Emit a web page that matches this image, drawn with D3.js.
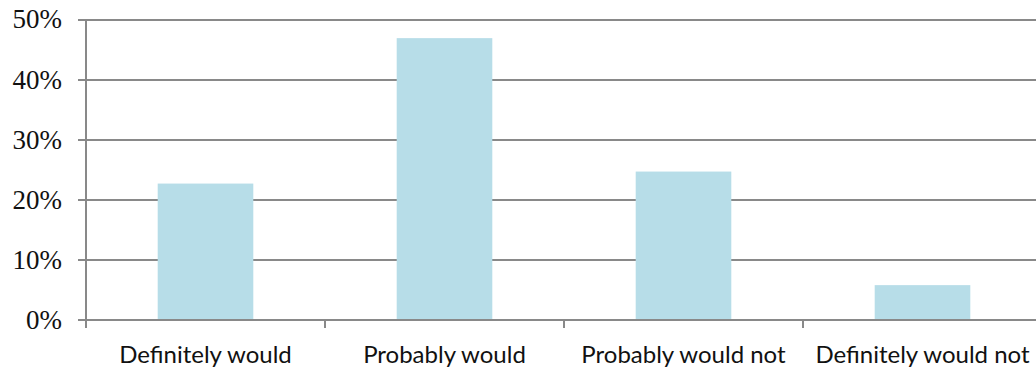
<!DOCTYPE html>
<html>
<head>
<meta charset="utf-8">
<script src="https://cdn.jsdelivr.net/npm/d3@7"></script>
<style>
  html, body { margin: 0; padding: 0; background: #fff; }
  svg { display: block; }
</style>
</head>
<body>
<svg id="chart" width="1036" height="367"></svg>
<script>
// Survey responses: share of respondents per answer
const categories = ["Definitely would", "Probably would", "Probably would not", "Definitely would not"];
const shares = [0.227, 0.469, 0.247, 0.058];
const yTicks = [0, 0.1, 0.2, 0.3, 0.4, 0.5];

const svg = d3.select("#chart");
const plotLeft = 86, plotRight = 1042, plotTop = 19.5, plotBottom = 320;
const gridColor = "#898989";
const barColor = "#b7dde8";

const x = d3.scaleBand()
  .domain(categories)
  .range([plotLeft, plotRight])
  .paddingInner(0.6)
  .paddingOuter(0.3);

const y = d3.scaleLinear().domain([0, 0.5]).range([plotBottom, plotTop]);

// horizontal gridlines with short ticks left of the axis
svg.append("g").selectAll("line")
  .data(yTicks)
  .join("line")
  .attr("x1", plotLeft - 8)
  .attr("x2", 1036)
  .attr("y1", d => Math.round(y(d)))
  .attr("y2", d => Math.round(y(d)))
  .attr("stroke", gridColor)
  .attr("stroke-width", 2);

// bars
svg.append("g").selectAll("rect")
  .data(categories)
  .join("rect")
  .attr("x", d => x(d))
  .attr("width", x.bandwidth())
  .attr("y", (d, i) => y(shares[i]))
  .attr("height", (d, i) => y(0) - y(shares[i]))
  .attr("fill", barColor);

// baseline drawn over the bar bottoms
svg.append("line")
  .attr("x1", plotLeft).attr("x2", 1036)
  .attr("y1", y(0)).attr("y2", y(0))
  .attr("stroke", gridColor).attr("stroke-width", 2);

// vertical axis line
svg.append("line")
  .attr("x1", plotLeft).attr("x2", plotLeft)
  .attr("y1", Math.round(y(0.5)) - 1).attr("y2", plotBottom + 8)
  .attr("stroke", gridColor).attr("stroke-width", 2);

// category boundary ticks below the baseline
const step = x.step();
const bounds = d3.range(categories.length + 1).map(i => plotLeft + i * step);
svg.append("g").selectAll("line")
  .data(bounds)
  .join("line")
  .attr("x1", d => d).attr("x2", d => d)
  .attr("y1", plotBottom).attr("y2", plotBottom + 8)
  .attr("stroke", gridColor).attr("stroke-width", 2);

// y tick labels
const pct = d3.format(".0%");
svg.append("g").selectAll("text")
  .data(yTicks)
  .join("text")
  .attr("x", 62)
  .attr("y", d => y(d))
  .attr("dy", "0.33em")
  .attr("text-anchor", "end")
  .attr("font-family", "'Liberation Serif', 'DejaVu Serif', serif")
  .attr("font-size", 27)
  .attr("fill", "#111")
  .text(d => pct(d));

// category labels
svg.append("g").selectAll("text")
  .data(categories)
  .join("text")
  .attr("x", d => x(d) + x.bandwidth() / 2)
  .attr("y", 363)
  .attr("text-anchor", "middle")
  .attr("font-family", "Lato, 'Open Sans', sans-serif")
  .attr("font-size", 24)
  .attr("fill", "#111")
  .text(d => d);
</script>
</body>
</html>
